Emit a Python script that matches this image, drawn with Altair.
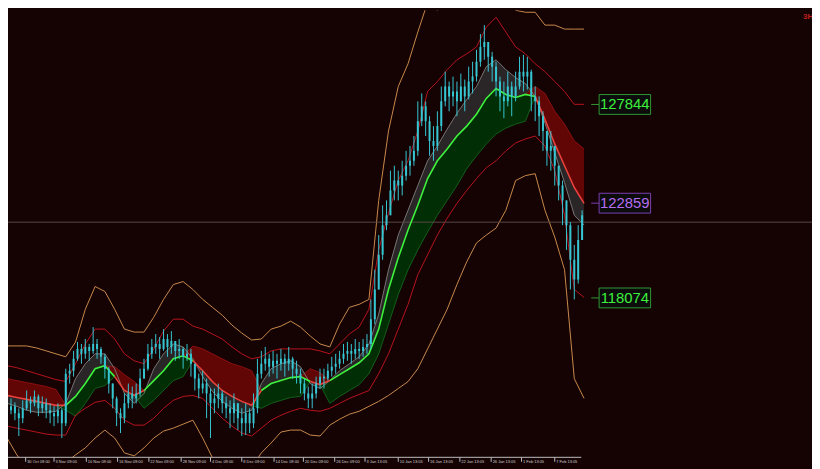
import altair as alt
import pandas as pd

BG = "#150304"
CYAN = "#36c6d2"

# ---------------- candles (one per bar) ----------------
first_open = 112600
close_p = [
    112400, 112600, 112250, 112000, 112500, 112900, 112750, 113100, 112500, 112750,
    112400, 112250, 112100, 112400, 111750, 114250, 114400, 115000, 115500, 115250,
    115600, 115400, 115750, 115500, 115100, 114500, 113750, 113000, 112250, 112000,
    112750, 113250, 113000, 113250, 114000, 114500, 115250, 115600, 115750, 115500,
    116000, 115600, 115900, 115400, 115500, 115100, 115250, 114750, 114000, 113500,
    113750, 113250, 112750, 113000, 113250, 112750, 112500, 112250, 112750, 112000,
    111750, 112250, 111750, 112500, 114250, 114750, 115000, 114600, 114900, 114750,
    115000, 114750, 115000, 114500, 114250, 113750, 113250, 113000, 113250, 113750,
    114100, 114000, 114400, 114600, 114750, 115000, 115250, 115400, 115250, 115500,
    115400, 115600, 115750, 117000, 118500, 120250, 121750, 122250, 123500, 124000,
    123750, 124250, 124750, 125000, 125500, 127000, 127750, 127000, 126000, 125750,
    126750, 128000, 128750, 128250, 128500, 128000, 128750, 128250, 129000, 129250,
    130000, 130750, 131000, 130250, 129750, 129000, 128250, 128000, 128750, 128250,
    128750, 129500, 129250, 129500, 128250, 128000, 127250, 126500, 125500, 125750,
    124750, 123750, 123000, 121750, 120000, 119000, 121000, 122250,
]
high_p = [
    112750, 113000, 112800, 112500, 112900, 113400, 113100, 113400, 113200, 113100,
    113000, 112750, 112600, 112750, 112500, 114500, 114750, 115400, 115850, 115750,
    116000, 115750, 116600, 116000, 115600, 115250, 114600, 113750, 113100, 112500,
    113250, 113750, 113600, 113750, 114500, 115000, 115750, 116000, 116250, 116100,
    116500, 116250, 116400, 115900, 116000, 115600, 115750, 115500, 114750, 114250,
    114400, 114000, 113500, 113500, 113750, 113400, 113100, 112900, 113250, 112750,
    112500, 112750, 112500, 113250, 115000, 115400, 115600, 115250, 115400, 115250,
    115500, 115250, 115600, 115100, 114900, 114500, 114000, 113600, 113750, 114100,
    114500, 114500, 114750, 115100, 115250, 115400, 115750, 115850, 115750, 116000,
    115850, 116000, 116250, 118000, 119500, 121250, 122750, 123000, 124500, 124750,
    124500, 125000, 125500, 125750, 126250, 128000, 128400, 128000, 127250, 126750,
    127500, 128750, 129500, 129000, 129250, 129000, 129400, 129100, 129750, 130000,
    130600, 131400, 131850, 131000, 130500, 130000, 129250, 129000, 129500, 129000,
    129500, 130250, 130350, 130250, 129600, 128750, 128250, 127500, 126500, 126500,
    125750, 124750, 124000, 123000, 121900, 120750, 121750, 122500,
]
low_p = [
    112000, 112200, 111900, 111100, 111750, 112400, 112250, 112600, 112100, 112250,
    112000, 111750, 111600, 111750, 111000, 111600, 113750, 114100, 114900, 114750,
    115000, 114900, 115250, 115000, 114750, 114000, 113250, 112500, 111600, 111250,
    111750, 112500, 112500, 112750, 113100, 114000, 114400, 115000, 115250, 115000,
    115400, 115100, 115250, 114900, 115000, 114500, 114900, 114100, 113400, 113000,
    113250, 112000, 111000, 112250, 112500, 112250, 112000, 111500, 111750, 111400,
    111100, 111150, 111250, 111500, 112250, 114000, 114400, 114100, 114250, 114000,
    114400, 114100, 114400, 114000, 113750, 113250, 112900, 112500, 112500, 113000,
    113500, 113500, 113900, 114100, 114250, 114500, 114750, 114900, 114750, 115000,
    115000, 115100, 115250, 115500, 116750, 118500, 120000, 121500, 122250, 123000,
    123000, 123250, 124000, 124250, 124750, 125250, 126750, 126250, 125250, 125000,
    125500, 126500, 127750, 127500, 127750, 127250, 128000, 127500, 128100, 128400,
    129000, 129750, 130100, 129500, 129000, 128250, 127500, 127150, 127750, 127250,
    128000, 128600, 128500, 128600, 127500, 127000, 126250, 125500, 124750, 124500,
    123750, 123000, 121750, 120500, 118500, 118000, 118800, 121000,
]

# ---------------- indicator lines (one sample every 2.5 bars) ----------------
trend = "DDDDDD" + "UUUUU" + "DDD" + "UUUUU" + "DDDDDDD" + "UUUUU" + "DD" + "U" * 21 + "DDDDDD"
ma_p = [
    113150, 113050, 112950, 112850, 112750, 112650, 112650, 113100, 113750, 114500,
    114650, 114100, 113400, 113150, 113400, 113900, 114400, 115000, 115150, 114900,
    114400, 113850, 113400, 113100, 112850, 112650, 113400, 113750, 113900, 114050,
    114100, 113850, 113700, 113900, 114200, 114500, 114800, 115250, 116500, 118500,
    120100, 121500, 122750, 124100, 125000, 125600, 126250, 126750, 127350, 128150,
    128650, 128350, 128200, 128350, 128250, 127100, 125850, 124750, 123650, 122850,
]
fast_p = [
    112750, 112600, 112400, 112300, 112300, 112350, 112750, 114000, 114750, 115250,
    115250, 114500, 113250, 112750, 113250, 114500, 115250, 115750, 115600, 115000,
    114100, 113350, 112850, 112500, 112250, 112400, 113750, 114500, 114750, 114900,
    114600, 113750, 113500, 113900, 114400, 114750, 115100, 115750, 117250, 119500,
    121250, 122500, 123750, 125000, 125750, 126600, 127400, 128100, 128750, 129750,
    130100, 129600, 129200, 128900, 128250, 126900, 125400, 123900, 122250, 121750,
]
N = None
u1_p = [
    114000, 113900, 113800, 113700, 113600, 113450, N, N, N, N,
    N, 114600, 114200, 113850, N, N, N, N, N, 115650,
    115500, 115250, 115000, 114750, 114600, 114400, N, N, N, N,
    N, 114500, 114300, N, N, N, N, N, N, N,
    N, N, N, N, N, N, N, N, N, N,
    N, N, N, N, 128750, 128400, 127500, 126850, 126000, 125600,
]
l1_p = [
    N, N, N, N, N, N, 112400, 112100, 112750, 113500,
    113650, N, N, N, 112500, 112900, 113400, 113900, 114100, N,
    N, N, N, N, N, N, 112500, 112750, 112900, 113050,
    113100, N, N, 112750, 113100, 113400, 113700, 114250, 115250, 116750,
    118250, 119500, 120500, 121400, 122250, 123000, 123750, 124600, 125250, 125850,
    126350, 126650, 126850, 127000, N, N, N, N, N, N,
]
u2_p = [
    114650, 114550, 114400, 114250, 114100, 113950, 113850, 114750, 115750, 116500,
    116500, 116000, 115250, 114900, 114750, 115500, 116400, 117000, 117000, 116650,
    116500, 116250, 116000, 115600, 115250, 115000, 115100, 115400, 115500, 115500,
    115500, 115500, 115400, 115250, 115750, 116250, 116600, 117500, 120500, 122350,
    124000, 125000, 126500, 128500, 129000, 129600, 130100, 130400, 130750, 131750,
    132250, 131500, 130750, 130400, 129900, 129500, 129000, 128500, 127850, 127850,
]
l2_p = [
    111600, 111500, 111400, 111300, 111200, 111150, 111150, 112150, 112500, 112800,
    112900, 112500, 111900, 111650, 111650, 112000, 112500, 112900, 113100, 113150,
    113000, 112500, 112000, 111600, 111250, 111100, 111500, 111900, 112150, 112350,
    112500, 112400, 112350, 112500, 112750, 113000, 113200, 113400, 114250, 115250,
    116500, 117750, 119250, 120250, 121250, 122100, 122850, 123500, 124100, 124650,
    125000, 125500, 125900, 126100, 126250, 125750, 124500, 122250, 118500, 118100,
]
u3_p = [
    115650, 115650, 115650, 115550, 115400, 115250, 115100, 115850, 117500, 118650,
    118400, 117500, 116500, 116350, 116350, 117100, 118000, 118750, 118900, 118500,
    118000, 117600, 117200, 116700, 116300, 115950, 116000, 116500, 116650, 116900,
    116600, 116150, 115750, 115600, 116750, 117600, 117750, 118000, 123000, 126500,
    128750, 129900, 131500, 133000, 132600, 133250, 134500, 135000, 135000, 135000,
    135000, 133500, 132600, 132500, 132500, 131850, 131850, 131650, 131650, 131650,
]
l3_p = [
    111000, 110150, 109500, 109500, 109500, 109500, 109750, 110150, 110500, 111000,
    111400, 111000, 110250, 110100, 110500, 111000, 111350, 111500, 111700, 111900,
    111000, 110000, 109500, 109500, 109500, 109500, 110250, 110750, 111300, 111400,
    111400, 111150, 111100, 111650, 111950, 112200, 112350, 112600, 112850, 113150,
    113500, 113850, 114500, 115500, 116500, 117500, 118750, 119900, 120850, 121250,
    121600, 122500, 124000, 124250, 124350, 122500, 121150, 119500, 114000, 113000,
]

# ---------------- labels ----------------
tick_bars = [4.75, 12, 20.25, 28.25, 36.25, 44.5, 52, 60, 68.25, 75.75, 83.75,
             91.5, 100, 107.75, 115.75, 123.75, 131.5, 140]
tick_labels = ["30 Oct 09:00", "3 Nov 09:00", "10 Nov 09:00", "16 Nov 09:00",
               "22 Nov 09:00", "28 Nov 09:00", "4 Dec 09:00", "8 Dec 09:00",
               "14 Dec 09:00", "20 Dec 09:00", "26 Dec 09:00", "3 Jan 13:05",
               "10 Jan 13:05", "16 Jan 13:05", "22 Jan 13:05", "26 Jan 13:05",
               "1 Feb 13:05", "7 Feb 13:05"]
price_labels = [127844, 122859, 118074]
price_label_text = ["#3cf03c", "#b46cf0", "#3cf03c"]
price_label_border = ["#2f9a34", "#7a3fb2", "#2f9a34"]
bid_price = [121900]

# ---------------- frames ----------------
n_bar = len(close_p)
open_p = [first_open] + close_p[:-1]
candles = pd.DataFrame({"t": list(range(n_bar)), "open": open_p, "close": close_p,
                        "high": high_p, "low": low_p})

n_ind = len(ma_p)
ind_t = [k * 2.5 for k in range(n_ind)]
rtop = [u if u is not None else m for u, m in zip(u1_p, ma_p)]
gbot = [g if g is not None else m for g, m in zip(l1_p, ma_p)]
ind = pd.DataFrame({"t": ind_t, "ma": ma_p, "fast": fast_p, "rtop": rtop, "gbot": gbot,
                    "u2": u2_p, "l2": l2_p, "u3": u3_p, "l3": l3_p})


def seg_rows(vals, want, extend_prev):
    rows = []
    k = 0
    sid = 0
    while k < n_ind:
        if trend[k] == want:
            s = k
            while k < n_ind and trend[k] == want:
                k += 1
            lo = s - 1 if (extend_prev and s > 0) else s
            hi = min(k, n_ind - 1)
            for j in range(lo, hi + 1):
                rows.append({"t": ind_t[j], "v": vals[j], "seg": f"{want}{sid}", "tr": want})
            sid += 1
        else:
            k += 1
    return rows


ma_seg = pd.DataFrame(seg_rows(ma_p, "U", False) + seg_rows(ma_p, "D", False))
u1_seg = pd.DataFrame(seg_rows(rtop, "D", True))
l1_seg = pd.DataFrame(seg_rows(gbot, "U", True))

ticks = pd.DataFrame({"t": tick_bars, "lab": tick_labels})
plabs = pd.DataFrame({"p": price_labels, "txt": [str(v) for v in price_labels],
                      "tc": price_label_text, "bc": price_label_border})
plabs["ptop"] = plabs["p"] + 500
plabs["pbot"] = plabs["p"] - 500
bid = pd.DataFrame({"p": bid_price})
one = pd.DataFrame({"a": [0]})

# the page adds an 8px margin: the chart covers the window from (8, 8) onwards
W, H = 812, 461
XS = alt.Scale(domain=[1.5, 204.5], nice=False, zero=False)
YS = alt.Scale(domain=[109550, 132600], nice=False, zero=False)
X = alt.X("t:Q", scale=XS, axis=None)


def Y(f):
    return alt.Y(f"{f}:Q", scale=YS, axis=None)


bi = alt.Chart(ind)
layers = [
    bi.mark_area(color="#2a2627", clip=True).encode(x=X, y=Y("fast"), y2="ma"),
    bi.mark_area(color="#620505", clip=True).encode(x=X, y=Y("rtop"), y2="ma"),
    bi.mark_area(color="#022e05", clip=True).encode(x=X, y=Y("ma"), y2="gbot"),
    alt.Chart(u1_seg).mark_line(color="#8c1010", strokeWidth=1, clip=True).encode(
        x=X, y=Y("v"), detail="seg:N"),
    alt.Chart(l1_seg).mark_line(color="#11601a", strokeWidth=1, clip=True).encode(
        x=X, y=Y("v"), detail="seg:N"),
    bi.mark_line(color="#c98a4b", strokeWidth=1, clip=True).encode(x=X, y=Y("u3")),
    bi.mark_line(color="#c98a4b", strokeWidth=1, clip=True).encode(x=X, y=Y("l3")),
    bi.mark_line(color="#b8141c", strokeWidth=1, clip=True).encode(x=X, y=Y("u2")),
    bi.mark_line(color="#b8141c", strokeWidth=1, clip=True).encode(x=X, y=Y("l2")),
    bi.mark_line(color="#8e8e8e", strokeWidth=0.8, clip=True).encode(x=X, y=Y("fast")),
    alt.Chart(bid).mark_rule(color="#5a4848", strokeWidth=1).encode(
        y=Y("p"), x=alt.value(0), x2=alt.value(W)),
    alt.Chart(ma_seg).mark_line(strokeWidth=1.6, clip=True).encode(
        x=X, y=Y("v"), detail="seg:N",
        color=alt.Color("tr:N", scale=alt.Scale(domain=["U", "D"], range=["#3ef23e", "#e8403a"]),
                        legend=None)),
    alt.Chart(candles).mark_rule(color=CYAN, strokeWidth=1, clip=True).encode(
        x=X, y=Y("low"), y2="high"),
    alt.Chart(candles).mark_bar(color=CYAN, width=2, clip=True).encode(
        x=X, y=Y("open"), y2="close"),
    # bottom time axis
    alt.Chart(one).mark_rect(color=BG).encode(
        x=alt.value(0), x2=alt.value(W), y=alt.value(451.5), y2=alt.value(H)),
    alt.Chart(one).mark_rule(color="#bdbdbd", strokeWidth=1).encode(
        x=alt.value(0), x2=alt.value(579), y=alt.value(451.5)),
    alt.Chart(ticks).mark_rule(color="#bdbdbd", strokeWidth=1).encode(
        x=X, y=alt.value(451.5), y2=alt.value(456)),
    alt.Chart(ticks).mark_text(align="left", baseline="middle", dx=1.5, fontSize=4,
                               font="Liberation Sans", color="#cfcfcf").encode(
        x=X, y=alt.value(456.5), text="lab:N"),
    # price labels on the right
    alt.Chart(plabs).mark_rule(strokeWidth=1).encode(
        x=alt.value(589), x2=alt.value(597), y=Y("p"), color=alt.Color("bc:N", scale=None)),
    alt.Chart(plabs).mark_rect(fill="#0c0c0c", strokeWidth=1).encode(
        x=alt.value(597), x2=alt.value(649), y=Y("ptop"), y2="pbot",
        stroke=alt.Stroke("bc:N", scale=None)),
    alt.Chart(plabs).mark_text(align="center", baseline="middle", fontSize=15,
                               font="Liberation Sans").encode(
        x=alt.value(623), y=Y("p"), text="txt:N", color=alt.Color("tc:N", scale=None)),
    alt.Chart(one).mark_text(align="left", baseline="middle", fontSize=8, fontWeight="bold",
                             font="Liberation Sans", color="#c0201c").encode(
        x=alt.value(803), y=alt.value(7), text=alt.value("3H")),
]

chart = alt.layer(*layers).properties(
    width=W, height=H, padding=0, autosize="none", background=BG
).configure_view(strokeWidth=0)

chart.save("out.html", embed_options={"renderer": "svg", "actions": False})
